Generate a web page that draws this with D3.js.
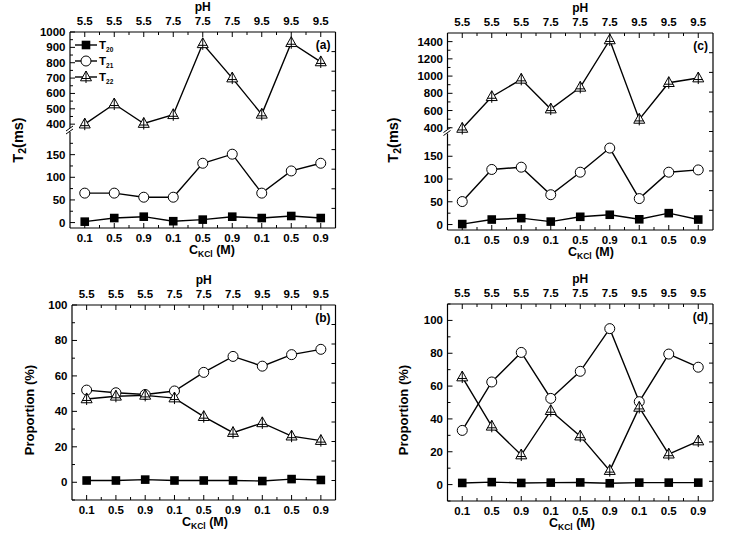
<!DOCTYPE html>
<html><head><meta charset="utf-8">
<script src="https://cdn.jsdelivr.net/npm/d3@7/dist/d3.min.js"></script>
<style>
body{margin:0;background:#fff}
text{font-family:"Liberation Sans",Arial,sans-serif;font-weight:bold;fill:#000}
</style></head>
<body><svg id="chart" width="735" height="547"></svg>
<script>
// ---- data ----
const kclLabels = ["0.1","0.5","0.9","0.1","0.5","0.9","0.1","0.5","0.9"];
const phLabels  = ["5.5","5.5","5.5","7.5","7.5","7.5","9.5","9.5","9.5"];
const seriesNames = ["20","21","22"];

const aT20 = [2, 10, 13, 3, 6.5, 13, 10, 14.5, 10];
const aT21 = [65, 65, 56, 56, 131, 151, 65, 114, 131];
const aT22 = [400, 531, 404, 461, 923, 700, 464, 930, 805];

const cT20 = [1, 11, 14, 6.5, 17, 21.5, 11.5, 25, 11];
const cT21 = [50.5, 121, 126, 65.5, 115, 168, 57, 115, 120];
const cT22 = [392, 760, 962, 617, 869, 1419, 497, 923, 977];

const bP20 = [1, 1, 1.5, 1, 1, 1, 0.7, 1.8, 1.3];
const bP21 = [52, 50.5, 49.5, 51.5, 62, 71, 65.5, 72, 75];
const bP22 = [47, 48.5, 49, 47.5, 37, 28, 33.5, 26, 23.5];

const dP20 = [1, 1.5, 1, 1.2, 1.3, 0.8, 1.2, 1.2, 1.2];
const dP21 = [33, 62.5, 80.5, 52.5, 69, 95, 50.5, 79.5, 71.5];
const dP22 = [65.5, 35.5, 18, 45, 29.5, 8.5, 47, 18.5, 26.5];

const lowerTicksT = [0, 50, 100, 150];
const lowerMinorT = [25, 75, 125, 175];
const upperTicksA = [400, 500, 600, 700, 800, 900, 1000];
const upperMinorA = [450, 550, 650, 750, 850, 950];
const upperTicksC = [400, 600, 800, 1000, 1200, 1400];
const upperMinorC = [500, 700, 900, 1100, 1300];
const propTicks = [0, 20, 40, 60, 80, 100];
const propMinor = [-10, 10, 30, 50, 70, 90, 110];

const panels = [
  {label:"(a)", box:{l:70, r:335.5, t:32, b:228}, broken:true, breakY:130,
   upper:[375,1000], upperTicks:upperTicksA, upperMinor:upperMinorA, lower:[-12,200],
   series:[aT20,aT21,aT22], legend:true, ytitle:"T", xtitleC:212, ytitleX:23, ytitleY:140},
  {label:"(c)", box:{l:447.5, r:713, t:33, b:230}, broken:true, breakY:131.5,
   upper:[380,1500], upperTicks:upperTicksC, upperMinor:upperMinorC, lower:[-12,200],
   series:[cT20,cT21,cT22], legend:false, ytitle:"T", xtitleC:591, ytitleX:398, ytitleY:140},
  {label:"(b)", box:{l:72, r:335.5, t:305, b:500}, broken:false, domain:[-10,100],
   series:[bP20,bP21,bP22], legend:false, ytitle:"P", xtitleC:205, ytitleX:34, ytitleY:410},
  {label:"(d)", box:{l:447.5, r:713, t:304, b:501}, broken:false, domain:[-10,110],
   series:[dP20,dP21,dP22], legend:false, ytitle:"P", xtitleC:572, ytitleX:408, ytitleY:410}
];

const svg = d3.select("#chart");
svg.append("rect").attr("width",735).attr("height",547).attr("fill","#fff");
const FS = 11.5;
const markerTypes = ["square","circle","triangle"];

function drawMarker(g, type, x, y) {
  const m = g.append("g").attr("transform", `translate(${x},${y})`);
  if (type === "square") {
    m.append("rect").attr("x",-4.3).attr("y",-4.3).attr("width",8.6).attr("height",8.6).attr("fill","#000");
  } else if (type === "circle") {
    m.append("circle").attr("r",5).attr("fill","#fff").attr("stroke","#000").attr("stroke-width",1);
  } else {
    m.append("path").attr("d","M0,-6L5.5,3.8L-5.5,3.8Z").attr("fill","#fff").attr("stroke","#000").attr("stroke-width",1);
    m.append("path").attr("d","M0,-6V6M-4.5,1.5H4.5").attr("stroke","#000").attr("stroke-width",1).attr("fill","none");
  }
}

panels.forEach(p => {
  const {l, r, t, b} = p.box;
  const g = svg.append("g");
  const x = d3.scaleLinear().domain([-0.5, 8.5]).range([l, r]);
  let yUp, yLow, y;
  if (p.broken) {
    yUp = d3.scaleLinear().domain(p.upper).range([p.breakY - 2, t]);
    yLow = d3.scaleLinear().domain(p.lower).range([b, p.breakY + 2]);
    y = v => v > 250 ? yUp(v) : yLow(v);
  } else {
    yLow = d3.scaleLinear().domain(p.domain).range([b, t]);
    y = yLow;
  }
  const idx = d3.range(9);

  // frame
  const fw = 1.2;
  g.append("line").attr("x1",l).attr("x2",r).attr("y1",t).attr("y2",t).attr("stroke","#000").attr("stroke-width",fw);
  g.append("line").attr("x1",l).attr("x2",r).attr("y1",b).attr("y2",b).attr("stroke","#000").attr("stroke-width",fw);
  g.append("line").attr("x1",r).attr("x2",r).attr("y1",t).attr("y2",b).attr("stroke","#000").attr("stroke-width",fw);
  if (p.broken) {
    g.append("line").attr("x1",l).attr("x2",l).attr("y1",t).attr("y2",p.breakY-2).attr("stroke","#000").attr("stroke-width",fw);
    g.append("line").attr("x1",l).attr("x2",l).attr("y1",p.breakY+2).attr("y2",b).attr("stroke","#000").attr("stroke-width",fw);
    g.append("line").attr("x1",l-4).attr("y1",p.breakY+1).attr("x2",l+3).attr("y2",p.breakY-4).attr("stroke","#000").attr("stroke-width",1);
    g.append("line").attr("x1",l-4).attr("y1",p.breakY+4).attr("x2",l+3).attr("y2",p.breakY-1).attr("stroke","#000").attr("stroke-width",1);
  } else {
    g.append("line").attr("x1",l).attr("x2",l).attr("y1",t).attr("y2",b).attr("stroke","#000").attr("stroke-width",fw);
  }

  // x ticks bottom & top (inward)
  const tick = (x1,y1,x2,y2) => g.append("line").attr("x1",x1).attr("y1",y1).attr("x2",x2).attr("y2",y2).attr("stroke","#000").attr("stroke-width",1);
  idx.forEach(i => {
    tick(x(i), b, x(i), b-5); tick(x(i), t, x(i), t+5);
    if (i < 8) { tick(x(i+0.5), b, x(i+0.5), b-3); tick(x(i+0.5), t, x(i+0.5), t+3); }
  });
  // bottom labels
  g.selectAll(".bl").data(kclLabels).enter().append("text")
    .attr("x",(d,i)=>x(i)).attr("y",b+14).attr("text-anchor","middle").attr("font-size",FS).text(d=>d);
  g.selectAll(".tl").data(phLabels).enter().append("text")
    .attr("x",(d,i)=>x(i)).attr("y",t-7.5).attr("text-anchor","middle").attr("font-size",FS).text(d=>d);
  g.append("text").attr("x",(l+r)/2).attr("y",t-21.5).attr("text-anchor","middle").attr("font-size",FS+0.5).text("pH");
  // x title
  const xt = g.append("text").attr("x",p.xtitleC).attr("y",b+26).attr("text-anchor","middle").attr("font-size",FS+1);
  xt.append("tspan").text("C");
  xt.append("tspan").attr("font-size",8.5).attr("dy",3).text("KCl");
  xt.append("tspan").attr("dy",-3).text(" (M)");

  // y ticks (left)
  const yTicks = (scale, major, minor) => {
    major.forEach(v => {
      tick(l, scale(v), l+5, scale(v));
      g.append("text").attr("x",l-4.5).attr("y",scale(v)+4).attr("text-anchor","end").attr("font-size",FS).text(v);
    });
    minor.forEach(v => {
      const yy = scale(v);
      if (yy >= t-0.5 && yy <= b+0.5) tick(l, yy, l+3, yy);
    });
  };
  if (p.broken) {
    yTicks(yUp, p.upperTicks, p.upperMinor);
    yTicks(yLow, lowerTicksT, lowerMinorT);
  } else {
    yTicks(yLow, propTicks, propMinor);
  }
  // right ticks (evenly spaced)
  const yr = d3.scaleLinear().domain([0,10]).range([b,t]);
  d3.range(1,10).forEach(k => tick(r, yr(k), r-4, yr(k)));

  // y title
  const yt = g.append("text").attr("transform",`translate(${p.ytitleX},${p.ytitleY}) rotate(-90)`)
    .attr("text-anchor","middle").attr("font-size",14.5);
  if (p.ytitle === "T") {
    yt.append("tspan").text("T");
    yt.append("tspan").attr("font-size",10.5).attr("dy",3).text("2");
    yt.append("tspan").attr("dy",-3).text("(ms)");
  } else {
    yt.attr("font-size",13).text("Proportion (%)");
  }

  // panel label
  g.append("text").attr("x",r-5).attr("y",t+17).attr("text-anchor","end").attr("font-size",FS+0.5).text(p.label);

  // series
  const line = d3.line().x((d,i)=>x(i)).y(d=>y(d));
  p.series.forEach((s, si) => {
    g.append("path").datum(s).attr("d",line).attr("fill","none").attr("stroke","#000").attr("stroke-width",1.4);
  });
  p.series.forEach((s, si) => {
    s.forEach((v,i) => drawMarker(g, markerTypes[si], x(i), y(v)));
  });

  // legend
  if (p.legend) {
    seriesNames.forEach((n, k) => {
      const ly = 45 + k*16;
      g.append("line").attr("x1",75).attr("x2",97).attr("y1",ly).attr("y2",ly).attr("stroke","#000").attr("stroke-width",1.4);
      drawMarker(g, markerTypes[k], 86, ly);
      const lt = g.append("text").attr("x",99).attr("y",ly+4).attr("font-size",FS);
      lt.append("tspan").text("T");
      lt.append("tspan").attr("font-size",6.5).attr("dy",3).text(n);
    });
  }
});
</script></body></html>
